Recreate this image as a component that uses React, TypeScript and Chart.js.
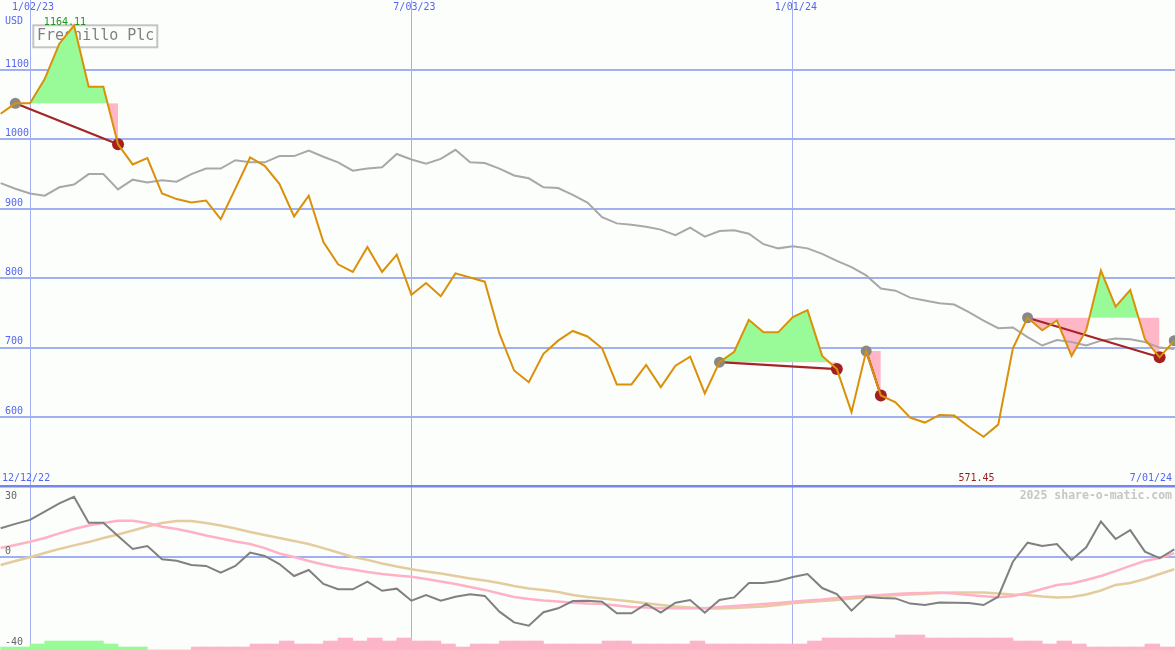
import React, { useEffect, useRef } from 'react';
import { Chart, registerables } from 'chart.js';

Chart.register(...registerables);

// ---------- data ----------
const weekNumbers: number[] = Array.from({ length: 81 }, (_, i) => i + 1); // weeks after 12/12/22

const closePrice = [
  1037, 1052, 1052, 1087, 1138, 1164.11, 1076, 1076, 993, 964,
  973, 922, 914, 909, 912, 885, 929, 974, 962, 936,
  889, 919, 852, 820, 809, 845, 809, 834, 776, 793,
  774, 807, 801, 795, 720, 667, 650, 691, 710, 724,
  716, 699, 647, 647, 675, 643, 674, 687, 634, 679,
  694, 740, 722, 722, 744, 754, 688, 669, 607, 695,
  631, 621, 599, 592, 603, 602, 586, 571.45, 589, 699,
  743, 725, 739, 688, 725, 811, 759, 783, 712, 686,
  710,
];

const priceAverage = [
  937, 929, 922, 919, 931, 935, 950, 950, 928, 942,
  938, 941, 939, 950, 958, 958, 970, 967, 967, 976,
  976, 984, 975, 967, 955, 958, 960, 979, 971, 965,
  972, 985, 967, 966, 958, 948, 944, 931, 930, 920,
  909, 888, 879, 877, 874, 870, 862, 873, 860, 868,
  869, 864, 849, 843, 846, 843, 835, 825, 816, 804,
  785, 782, 772, 768, 764, 762, 751, 739, 728, 729,
  715, 703, 711, 708, 703, 710, 713, 712, 708, 700,
  698,
];

const oscillator = [
  13.9, 16, 17.9, 21.9, 25.9, 29.1, 16.5, 16.5, 10.1, 3.9,
  5.3, -1.1, -1.8, -3.9, -4.3, -7.6, -4.3, 2.1, 0.5, -3.4,
  -9.2, -6.3, -13.0, -15.6, -15.6, -11.9, -16.3, -15.3, -21.1, -18.4,
  -21.1, -19.2, -18.0, -18.8, -26.4, -31.6, -33.2, -26.7, -24.8, -21.3,
  -21.1, -21.6, -27.2, -27.2, -22.7, -26.9, -22.1, -20.8, -26.9, -20.8,
  -19.5, -12.6, -12.6, -11.6, -9.7, -8.2, -15, -17.9, -25.9, -19.2,
  -19.8, -20, -22.5, -23.2, -22, -22.1, -22.2, -23.2, -19.2, -2.3,
  6.9, 5.3, 6.3, -1.4, 4.7, 17.1, 8.7, 13, 2.6, -0.6,
  3.7,
];

const oscFast = [
  4.3, 5.8, 7.4, 9.2, 11.4, 13.5, 15.2, 16.4, 17.5, 17.5,
  16.4, 14.6, 13.5, 12.1, 10.4, 8.9, 7.5, 6.3, 4.3, 1.7,
  0, -1.9, -3.6, -5.1, -6.0, -7.2, -8.2, -8.9, -9.5, -10.6,
  -11.8, -13.0, -14.5, -15.9, -17.6, -19.3, -20.3, -21.0, -21.5, -22.1,
  -22.5, -22.7, -23.4, -24.2, -24.4, -24.8, -24.8, -24.8, -24.8, -24.2,
  -23.7, -23.2, -22.7, -22.2, -21.6, -21.0, -20.5, -19.8, -19.3, -18.8,
  -18.4, -17.9, -17.5, -17.4, -17.2, -17.6, -18.4, -19.0, -19.5, -18.8,
  -17.4, -15.5, -13.5, -12.8, -11.1, -9.2, -6.8, -4.3, -1.9, -0.5,
  1.9,
];

const oscSlow = [
  -3.9, -1.9, -0.1, 1.9, 3.9, 5.6, 7.2, 9.2, 10.9, 12.8,
  14.7, 16.4, 17.4, 17.4, 16.4, 15.2, 13.8, 12.1, 10.6, 9.2,
  7.7, 6.3, 4.3, 2.2, 0, -1.4, -3.1, -4.6, -5.9, -7.0,
  -8.0, -9.2, -10.4, -11.4, -12.6, -14.0, -15.2, -15.9, -16.9, -18.4,
  -19.3, -20.0, -20.8, -21.5, -22.4, -23.2, -23.9, -24.4, -24.8, -24.9,
  -24.6, -24.3, -23.9, -23.2, -22.4, -21.7, -21.3, -20.8, -20.1, -19.6,
  -19.0, -18.5, -18.1, -17.7, -17.4, -17.2, -17.2, -17.2, -17.6, -18.1,
  -18.4, -19.1, -19.6, -19.3, -18.1, -16.2, -13.5, -12.6, -10.6, -8.2,
  -5.9,
];

// positive = green, negative = pink
const histogram = [
  1, 1, 2, 3, 3, 3, 3, 2, 1, 1,
  0, 0, 0, -1, -1, -1, -1, -2, -2, -3,
  -2, -2, -3, -4, -3, -4, -3, -4, -3, -3,
  -2, -1, -2, -2, -3, -3, -3, -2, -2, -2,
  -2, -3, -3, -2, -2, -2, -2, -3, -2, -2,
  -2, -2, -2, -2, -2, -3, -4, -4, -4, -4,
  -4, -5, -5, -4, -4, -4, -4, -4, -4, -3,
  -3, -2, -3, -2, -1, -1, -1, -1, -2, -1,
  -1,
];

const buyWeeks = [2, 50, 60, 71, 81];
const sellWeeks = [9, 58, 61, 80];

const dateTickWeeks = [3, 29, 55];
const dateTickLabels = ['1/02/23', '7/03/23', '1/01/24'];
const firstDateLabel = '12/12/22';
const lastDateLabel = '7/01/24';
const priceTicks = [600, 700, 800, 900, 1000, 1100];
const oscTicks = [30, 0, -40];
const TITLE = 'Fresnillo Plc';
const CURRENCY = 'USD';
const CREDIT = '2025 share-o-matic.com';

// ---------- styling ----------
const W = 1175;
const TOP_H = 485;
const BOT_H = 165;
const X_MIN = 0.955;
const X_MAX = 81.05;
const BG = '#FCFEFC';
const HGRID = '#A0B0F0';
const VGRID = '#A4B0F4';
const BLUE_TXT = '#5566EE';
const ORANGE = '#DA9008';
const GREEN = '#98FB98';
const PINK = '#FFB6C6';
const FONT = '"DejaVu Sans Mono", monospace';

const priceAt = (w: number) => closePrice[weekNumbers.indexOf(w)];
const pts = (arr: number[]) => weekNumbers.map((w, i) => ({ x: w, y: arr[i] }));

const xScaleOpts = () => ({
  type: 'linear',
  min: X_MIN,
  max: X_MAX,
  offset: false,
  display: true,
  border: { display: false },
  ticks: { display: false },
  grid: { drawTicks: false, color: VGRID, lineWidth: 1, offset: false },
  afterBuildTicks: (s: any) => {
    s.ticks = dateTickWeeks.map((v) => ({ value: v }));
  },
});

function text(ctx: any, s: string, x: number, y: number, color: string, align: string, font = `10px ${FONT}`) {
  ctx.font = font;
  ctx.fillStyle = color;
  ctx.textAlign = align;
  ctx.textBaseline = 'middle';
  ctx.fillText(s, x, y);
}

function topConfig(): any {
  const fills = buyWeeks
    .map((b, k) => {
      const s = sellWeeks[k];
      if (s === undefined) return null;
      const base = priceAt(b);
      return {
        type: 'line',
        data: weekNumbers.filter((w) => w >= b && w <= s).map((w) => ({ x: w, y: priceAt(w) })),
        borderWidth: 0,
        borderColor: 'rgba(0,0,0,0)',
        pointRadius: 0,
        fill: { target: { value: base }, above: GREEN, below: PINK },
        order: 6,
      };
    })
    .filter(Boolean);

  const signalLines = sellWeeks.map((s, k) => ({
    type: 'line',
    data: [
      { x: buyWeeks[k], y: priceAt(buyWeeks[k]) },
      { x: s, y: priceAt(s) },
    ],
    borderColor: '#A52424',
    borderWidth: 2.2,
    pointRadius: 0,
    fill: false,
    order: 3,
  }));

  const decor = {
    id: 'topDecor',
    beforeDatasetsDraw(chart: any) {
      const ctx = chart.ctx;
      ctx.save();
      ctx.strokeStyle = '#C4C4C4';
      ctx.lineWidth = 2;
      ctx.strokeRect(33.3, 25.3, 124, 22);
      text(ctx, TITLE, 37, 36.5, '#808080', 'left', `15px ${FONT}`);
      ctx.restore();
    },
    afterDraw(chart: any) {
      const ctx = chart.ctx;
      const xs = chart.scales.x;
      const ys = chart.scales.y;
      ctx.save();
      dateTickWeeks.forEach((w, i) => text(ctx, dateTickLabels[i], xs.getPixelForValue(w) + 3, 7.5, BLUE_TXT, 'center'));
      text(ctx, CURRENCY, 5, 21, BLUE_TXT, 'left');
      priceTicks.forEach((v) => text(ctx, String(v), 5, ys.getPixelForValue(v) - 5.7, BLUE_TXT, 'left'));
      let hi = 0;
      let lo = 0;
      closePrice.forEach((v, i) => {
        if (v > closePrice[hi]) hi = i;
        if (v < closePrice[lo]) lo = i;
      });
      text(ctx, closePrice[hi].toFixed(2), xs.getPixelForValue(weekNumbers[hi]) + 12, 22, '#1C961C', 'right');
      text(ctx, closePrice[lo].toFixed(2), xs.getPixelForValue(weekNumbers[lo]) + 11, 478.5, '#9C1C1C', 'right');
      text(ctx, firstDateLabel, 2, 478, BLUE_TXT, 'left');
      text(ctx, lastDateLabel, 1172, 478, BLUE_TXT, 'right');
      ctx.restore();
    },
  };

  return {
    type: 'line',
    data: {
      datasets: [
        {
          data: pts(closePrice),
          borderColor: ORANGE,
          borderWidth: 2,
          pointRadius: 0,
          fill: false,
          order: 0,
        },
        {
          data: sellWeeks.map((w) => ({ x: w, y: priceAt(w) })),
          showLine: false,
          pointRadius: 6,
          pointBackgroundColor: '#A42020',
          pointBorderWidth: 0,
          order: 1,
        },
        {
          data: buyWeeks.map((w) => ({ x: w, y: priceAt(w) })),
          showLine: false,
          pointRadius: 5.5,
          pointBackgroundColor: '#888888',
          pointBorderWidth: 0,
          order: 2,
        },
        ...signalLines,
        {
          data: pts(priceAverage),
          borderColor: '#A8A8A8',
          borderWidth: 2,
          pointRadius: 0,
          fill: false,
          order: 5,
        },
        ...fills,
      ],
    },
    options: {
      responsive: false,
      animation: false,
      devicePixelRatio: 1,
      layout: { padding: 0, autoPadding: false },
      plugins: { legend: { display: false }, tooltip: { enabled: false } },
      events: [],
      scales: {
        x: xScaleOpts(),
        y: {
          type: 'linear',
          min: 502,
          max: 1200.9,
          display: true,
          border: { display: false },
          ticks: { display: false },
          grid: { drawTicks: false, color: HGRID, lineWidth: 2 },
          afterBuildTicks: (s: any) => {
            s.ticks = priceTicks.map((v) => ({ value: v }));
          },
        },
      },
    },
    plugins: [decor],
  };
}

function botConfig(): any {
  const decor = {
    id: 'botDecor',
    afterDraw(chart: any) {
      const ctx = chart.ctx;
      const ys = chart.scales.y;
      ctx.save();
      ctx.fillStyle = '#7684EE';
      ctx.fillRect(0, 0, W, 2.5);
      oscTicks.forEach((v, i) => {
        let y = ys.getPixelForValue(v) - 6;
        if (i === 0) y = 11;
        if (i === oscTicks.length - 1) y = 157;
        text(ctx, String(v), 5, y, '#666666', 'left');
      });
      text(ctx, CREDIT, 1172, 11, '#C6C6C6', 'right', `bold 11.5px ${FONT}`);
      ctx.restore();
    },
  };

  return {
    type: 'line',
    data: {
      datasets: [
        {
          data: pts(oscillator),
          borderColor: '#808080',
          borderWidth: 2,
          pointRadius: 0,
          fill: false,
          order: 0,
        },
        {
          data: pts(oscFast),
          borderColor: '#FFB2C6',
          borderWidth: 2.5,
          pointRadius: 0,
          fill: false,
          order: 1,
        },
        {
          data: pts(oscSlow),
          borderColor: '#E4CC9E',
          borderWidth: 2.5,
          pointRadius: 0,
          fill: false,
          order: 2,
        },
        {
          type: 'bar',
          yAxisID: 'y2',
          data: weekNumbers.map((w, i) => ({ x: w + 0.5, y: Math.abs(histogram[i]) })),
          backgroundColor: histogram.map((h) => (h > 0 ? GREEN : '#FBB4C8')),
          borderWidth: 0,
          barPercentage: 1,
          categoryPercentage: 1,
          grouped: false,
          order: 3,
        },
      ],
    },
    options: {
      responsive: false,
      animation: false,
      devicePixelRatio: 1,
      layout: { padding: 0, autoPadding: false },
      plugins: { legend: { display: false }, tooltip: { enabled: false } },
      events: [],
      scales: {
        x: xScaleOpts(),
        y: {
          type: 'linear',
          min: -44.93,
          max: 34.78,
          display: true,
          border: { display: false },
          ticks: { display: false },
          grid: { drawTicks: false, color: HGRID, lineWidth: 2 },
          afterBuildTicks: (s: any) => {
            s.ticks = [{ value: 0 }];
          },
        },
        y2: {
          type: 'linear',
          min: 0,
          max: BOT_H / 3,
          display: false,
        },
      },
    },
    plugins: [decor],
  };
}

export default function App() {
  const topRef = useRef<HTMLCanvasElement>(null);
  const botRef = useRef<HTMLCanvasElement>(null);

  useEffect(() => {
    document.body.style.margin = '0';
    const top = new Chart(topRef.current as any, topConfig());
    const bot = new Chart(botRef.current as any, botConfig());
    return () => {
      top.destroy();
      bot.destroy();
    };
  }, []);

  return (
    <div style={{ position: 'relative', width: W, height: TOP_H + BOT_H, background: BG, overflow: 'hidden' }}>
      <canvas
        ref={topRef}
        width={W}
        height={TOP_H}
        style={{ position: 'absolute', left: 0, top: 0, width: W, height: TOP_H }}
      />
      <canvas
        ref={botRef}
        width={W}
        height={BOT_H}
        style={{ position: 'absolute', left: 0, top: TOP_H, width: W, height: BOT_H }}
      />
    </div>
  );
}
